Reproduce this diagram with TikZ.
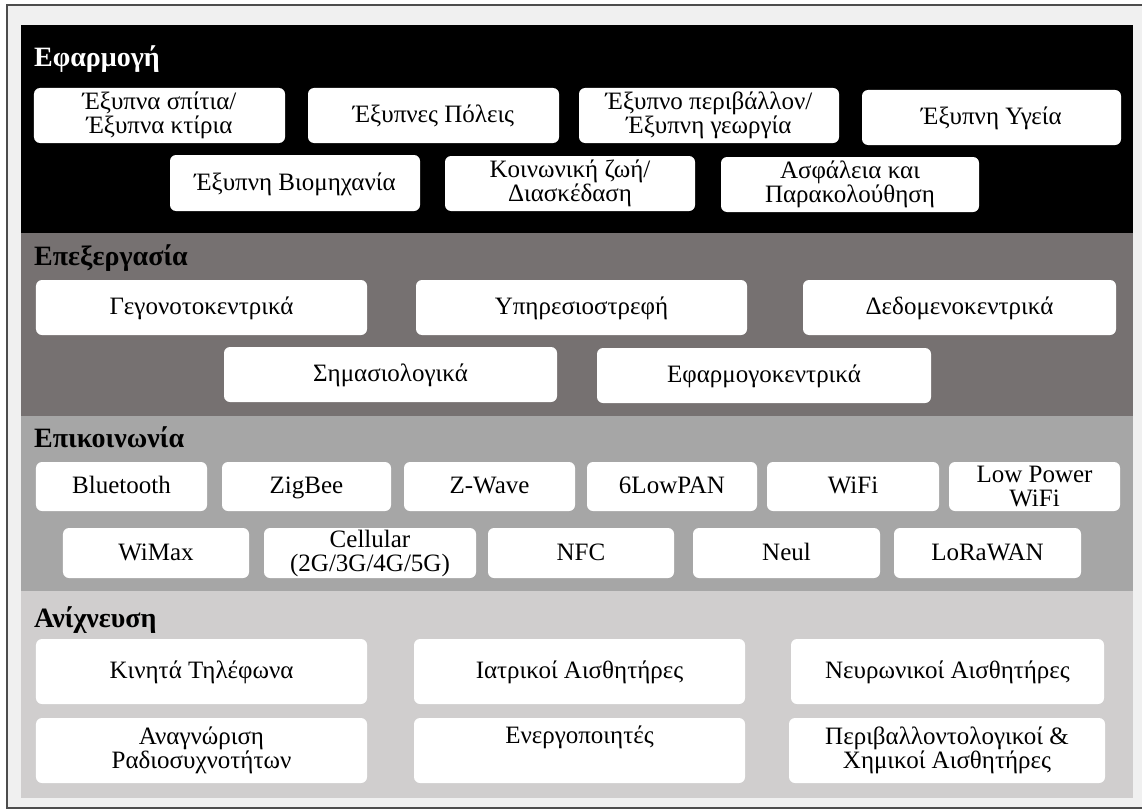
\documentclass[tikz,border=0pt]{standalone}
\usepackage{fontspec}
\setmainfont{Liberation Serif}
\definecolor{framebg}{HTML}{F0F0F0}
\definecolor{frameline}{HTML}{4D4D4D}
\definecolor{procgray}{HTML}{767171}
\definecolor{commgray}{HTML}{A6A6A6}
\definecolor{sensegray}{HTML}{D0CECE}
\tikzset{
  layerbox/.style={rounded corners=6bp, fill=white, draw=none, inner sep=0pt,
    align=center, font=\fontsize{25bp}{24bp}\selectfont},
  % single-line labels share one baseline position
  oneline/.style={layerbox, text height=18bp, text depth=4bp},
  layertitle/.style={anchor=base west, inner sep=0pt,
    font=\fontsize{28bp}{28bp}\selectfont\bfseries},
}
\begin{document}
\begin{tikzpicture}[x=1bp, y=-1bp]
\useasboundingbox (0,0) rectangle (1142,811);
\fill[white] (0,0) rectangle (1142,811);
% outer frame (its right side runs past the page edge)
\draw[fill=framebg, draw=frameline, line width=1.5bp] (7,5) rectangle (1160,808);
% layer bands
\fill[black]      (21,25)  rectangle (1133,233);
\fill[procgray]   (21,233) rectangle (1133,416);
\fill[commgray]   (21,416) rectangle (1133,591);
\fill[sensegray]  (21,591) rectangle (1133,798);

% --- application layer
\node[layertitle, text=white] (tapp) at (34,67) {Εφαρμογή};
\node[layerbox, minimum width=251bp, minimum height=55bp] (a1) at (159.5,115.5) {Έξυπνα σπίτια/\\Έξυπνα κτίρια};
\node[oneline, minimum width=251bp, minimum height=55bp] (a2) at (433.5,115.5) {Έξυπνες Πόλεις};
\node[layerbox, minimum width=260bp, minimum height=55bp] (a3) at (709,115.5) {Έξυπνο περιβάλλον/\\Έξυπνη γεωργία};
\node[oneline, minimum width=259bp, minimum height=55bp] (a4) at (991.5,117.5) {Έξυπνη Υγεία};
\node[oneline, minimum width=250bp, minimum height=56bp] (a5) at (295,183) {Έξυπνη Βιομηχανία};
\node[layerbox, minimum width=250bp, minimum height=55bp] (a6) at (570,183.5) {Κοινωνική ζωή/\\Διασκέδαση};
\node[layerbox, minimum width=258bp, minimum height=55bp] (a7) at (850,184.5) {Ασφάλεια και\\Παρακολούθηση};

% --- processing layer
\node[layertitle] (tproc) at (34,265) {Επεξεργασία};
\node[oneline, minimum width=331bp, minimum height=55bp] (p1) at (201.5,307.5) {Γεγονοτοκεντρικά};
\node[oneline, minimum width=331bp, minimum height=55bp] (p2) at (581.5,307.5) {Υπηρεσιοστρεφή};
\node[oneline, minimum width=313bp, minimum height=55bp] (p3) at (959.5,307.5) {Δεδομενοκεντρικά};
\node[oneline, minimum width=333bp, minimum height=55bp] (p4) at (390.5,374.5) {Σημασιολογικά};
\node[oneline, minimum width=334bp, minimum height=55bp] (p5) at (764,375.5) {Εφαρμογοκεντρικά};

% --- communication layer
\node[layertitle] (tcomm) at (34,447) {Επικοινωνία};
\node[oneline, minimum width=171bp, minimum height=49bp] (c1) at (121.5,486.5) {Bluetooth};
\node[oneline, minimum width=169bp, minimum height=49bp] (c2) at (306.5,486.5) {ZigBee};
\node[oneline, minimum width=171bp, minimum height=49bp] (c3) at (489.5,486.5) {Z-Wave};
\node[oneline, minimum width=170bp, minimum height=49bp] (c4) at (672,486.5) {6LowPAN};
\node[oneline, minimum width=172bp, minimum height=49bp] (c5) at (853,486.5) {WiFi};
\node[layerbox, minimum width=171bp, minimum height=49bp] (c6) at (1034.5,486.5) {Low Power\\WiFi};
\node[oneline, minimum width=186bp, minimum height=50bp] (c7) at (156,553) {WiMax};
\node[layerbox, minimum width=212bp, minimum height=50bp] (c8) at (370,553) {Cellular\\(2G/3G/4G/5G)};
\node[oneline, minimum width=186bp, minimum height=50bp] (c9) at (581,553) {NFC};
\node[oneline, minimum width=187bp, minimum height=50bp] (c10) at (786.5,553) {Neul};
\node[oneline, minimum width=187bp, minimum height=50bp] (c11) at (987.5,553) {LoRaWAN};

% --- sensing layer
\node[layertitle] (tsense) at (34,627) {Ανίχνευση};
\node[oneline, minimum width=331bp, minimum height=65bp] (s1) at (201.5,671.5) {Κινητά Τηλέφωνα};
\node[oneline, minimum width=331bp, minimum height=65bp] (s2) at (579.5,671.5) {Ιατρικοί Αισθητήρες};
\node[oneline, minimum width=313bp, minimum height=65bp] (s3) at (947.5,671.5) {Νευρωνικοί Αισθητήρες};
\node[layerbox, minimum width=331bp, minimum height=65bp] (s4) at (201.5,750.5) {Αναγνώριση\\Ραδιοσυχνοτήτων};
\node[layerbox, minimum width=331bp, minimum height=65bp] (s5) at (579.5,750.5) {Ενεργοποιητές\\\strut};
\node[layerbox, minimum width=316bp, minimum height=65bp] (s6) at (947,750.5) {Περιβαλλοντολογικοί \&\\Χημικοί Αισθητήρες};
\end{tikzpicture}
\end{document}
